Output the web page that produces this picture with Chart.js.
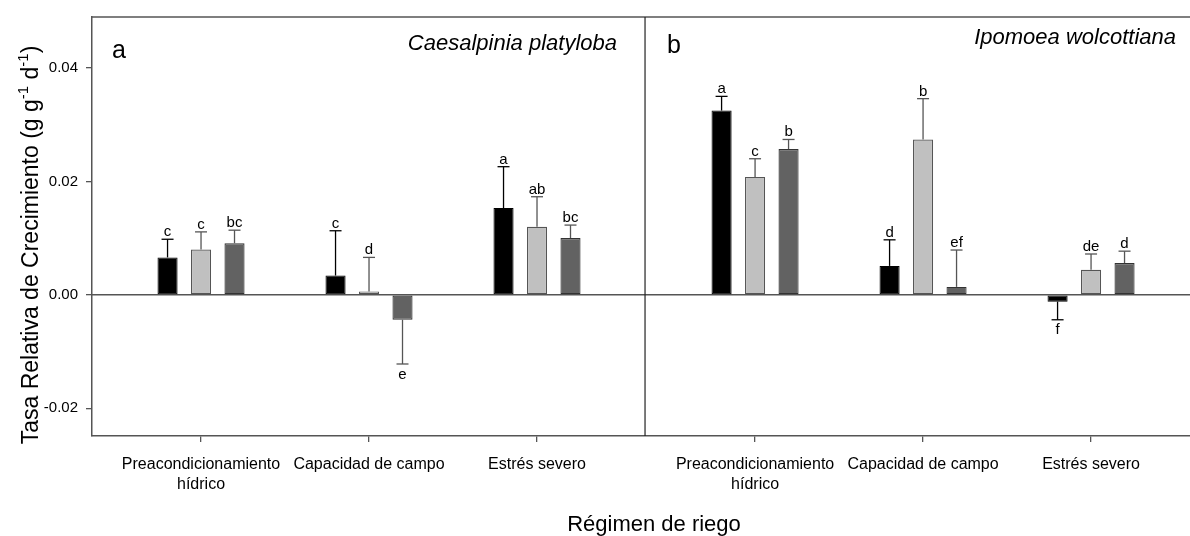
<!DOCTYPE html>
<html>
<head>
<meta charset="utf-8">
<script src="https://cdn.jsdelivr.net/npm/chart.js@4.4.0/dist/chart.umd.min.js"></script>
<style>
  html, body { margin: 0; padding: 0; background: #fff; }
  #wrap { width: 1190px; height: 536px; }
</style>
</head>
<body>
<div id="wrap"><canvas id="c" width="1190" height="536"></canvas></div>
<script>
// ── Data ──────────────────────────────────────────────────
// order: C. platyloba (3 regimes), then I. wolcottiana (3 regimes)
const categories = [['Preacondicionamiento', 'hídrico'], 'Capacidad de campo', 'Estrés severo'];
const species = ['Caesalpinia platyloba', 'Ipomoea wolcottiana'];
const panelTags = ['a', 'b'];

const serie1 = [0.0066, 0.0034, 0.0153, 0.0325, 0.0051, -0.0012];
const serie2 = [0.0080, 0.0006, 0.0120, 0.0208, 0.0274, 0.0044];
const serie3 = [0.0091, -0.0044, 0.0100, 0.0257, 0.0014, 0.0056];

const err1 = [0.0032, 0.0079, 0.0073, 0.0025, 0.0046, 0.0032];
const err2 = [0.0031, 0.0060, 0.0053, 0.0032, 0.0072, 0.0028];
const err3 = [0.0023, 0.0078, 0.0023, 0.0017, 0.0065, 0.0021];

const let1 = ['c', 'c', 'a', 'a', 'd', 'f'];
const let2 = ['c', 'd', 'ab', 'c', 'b', 'de'];
const let3 = ['bc', 'e', 'bc', 'b', 'ef', 'd'];

const yTicks = [-0.02, 0, 0.02, 0.04];

// ── Layout helpers ────────────────────────────────────────
const PANEL_GAP = 3.298;          // x units between the two panels
const X_MIN = 0.351, X_MAX = 6.887, DIVIDER = 3.643;
const FONT = 'Arial, "Liberation Sans", sans-serif';

const xPos = k => 1 + (k % 3) + Math.floor(k / 3) * PANEL_GAP;
const xTickVals = [0, 1, 2, 3, 4, 5].map(xPos);
const toPoints = arr => arr.map((v, k) => ({ x: xPos(k), y: v }));

Chart.defaults.font.family = FONT;
Chart.defaults.color = '#000';

function line(ctx, x1, y1, x2, y2) {
  ctx.beginPath(); ctx.moveTo(x1, y1); ctx.lineTo(x2, y2); ctx.stroke();
}

// ── Decorations: frame, zero line, error bars, letters, titles ──
const deco = {
  id: 'deco',
  beforeDatasetsDraw(chart) {
    const { ctx, chartArea: a, scales: { x, y } } = chart;
    ctx.save();
    ctx.strokeStyle = '#555';
    ctx.lineWidth = 1.5;
    const y0 = y.getPixelForValue(0);
    line(ctx, a.left, y0, a.right, y0);
    line(ctx, a.left, a.top, a.right, a.top);
    ctx.strokeStyle = '#222';
    ctx.lineWidth = 1.2;
    const xd = x.getPixelForValue(DIVIDER);
    line(ctx, xd, a.top, xd, a.bottom);
    ctx.restore();
  },
  afterDatasetsDraw(chart) {
    const { ctx, scales: { y } } = chart;
    ctx.save();
    chart.data.datasets.forEach((ds, di) => {
      const meta = chart.getDatasetMeta(di);
      meta.data.forEach((bar, i) => {
        const v = ds.data[i].y, e = ds.err[i];
        const end = y.getPixelForValue(v >= 0 ? v + e : v - e);
        ctx.strokeStyle = ds.errColor;
        ctx.lineWidth = 1.3;
        line(ctx, bar.x, bar.y, bar.x, end);
        line(ctx, bar.x - 6, end, bar.x + 6, end);
        ctx.fillStyle = '#000';
        ctx.font = '15px ' + FONT;
        ctx.textAlign = 'center';
        if (v >= 0) { ctx.textBaseline = 'alphabetic'; ctx.fillText(ds.letters[i], bar.x, end - 3); }
        else { ctx.textBaseline = 'top'; ctx.fillText(ds.letters[i], bar.x, end + 3); }
      });
    });
    ctx.restore();
  },
  afterDraw(chart) {
    const { ctx } = chart;
    ctx.save();
    ctx.fillStyle = '#000';
    ctx.textBaseline = 'alphabetic';
    // panel tags
    ctx.font = '25px ' + FONT;
    ctx.textAlign = 'left';
    ctx.fillText(panelTags[0], 112, 58);
    ctx.fillText(panelTags[1], 667, 53);
    // species
    ctx.font = 'italic 22px ' + FONT;
    ctx.textAlign = 'right';
    ctx.fillText(species[0], 617, 50);
    ctx.fillText(species[1], 1176, 44);
    // x title
    ctx.font = '22px ' + FONT;
    ctx.textAlign = 'center';
    ctx.fillText('Régimen de riego', 654, 531);
    // y title with superscripts
    const parts = [
      ['Tasa Relativa de Crecimiento (g g', 0], ['-1', 1], [' d', 0], ['-1', 1], [')', 0]
    ];
    const big = '23px ' + FONT, small = '15px ' + FONT;
    let w = 0;
    parts.forEach(([t, s]) => { ctx.font = s ? small : big; w += ctx.measureText(t).width; });
    ctx.translate(38, 245);
    ctx.rotate(-Math.PI / 2);
    ctx.textAlign = 'left';
    let cx = -w / 2;
    parts.forEach(([t, s]) => {
      ctx.font = s ? small : big;
      ctx.fillText(t, cx, s ? -10 : 0);
      cx += ctx.measureText(t).width;
    });
    ctx.restore();
  }
};

// ── Chart ─────────────────────────────────────────────────
new Chart(document.getElementById('c'), {
  type: 'bar',
  data: {
    datasets: [
      { label: 'T1', data: toPoints(serie1), err: err1, letters: let1, errColor: '#000',
        backgroundColor: '#000', borderColor: '#000', borderWidth: 1 },
      { label: 'T2', data: toPoints(serie2), err: err2, letters: let2, errColor: '#555',
        backgroundColor: '#c0c0c0', borderColor: '#555', borderWidth: 1.2 },
      { label: 'T3', data: toPoints(serie3), err: err3, letters: let3, errColor: '#555',
        backgroundColor: '#626262', borderColor: '#333', borderWidth: 1.2 }
    ]
  },
  options: {
    responsive: false,
    animation: false,
    events: [],
    categoryPercentage: 0.598,
    barPercentage: 0.6,
    datasets: { bar: { borderSkipped: false } },
    layout: { padding: { top: 14, right: 0, bottom: 0, left: 0 } },
    plugins: { legend: { display: false }, tooltip: { enabled: false } },
    scales: {
      x: {
        type: 'linear',
        offset: false,
        min: X_MIN, max: X_MAX,
        afterBuildTicks: s => { s.ticks = xTickVals.map(v => ({ value: v })); },
        afterFit: s => { s.height = 100; },
        ticks: {
          autoSkip: false, maxRotation: 0, padding: 13,
          font: { size: 16, lineHeight: 1.25 }, color: '#000',
          callback: (v, i) => categories[i % 3]
        },
        grid: { offset: false, drawOnChartArea: false, drawTicks: true, tickLength: 6, color: '#555', lineWidth: 1.3 },
        border: { display: true, color: '#555', width: 1.5 }
      },
      y: {
        min: -0.0249, max: 0.049,
        afterBuildTicks: s => { s.ticks = yTicks.map(v => ({ value: v })); },
        afterFit: s => { s.width = 92; },
        ticks: {
          padding: 8, font: { size: 15 }, color: '#000',
          callback: v => v.toFixed(2)
        },
        grid: { drawOnChartArea: false, drawTicks: true, tickLength: 6, color: '#555', lineWidth: 1.3 },
        border: { display: true, color: '#555', width: 1.5 }
      }
    }
  },
  plugins: [deco]
});
</script>
</body>
</html>
